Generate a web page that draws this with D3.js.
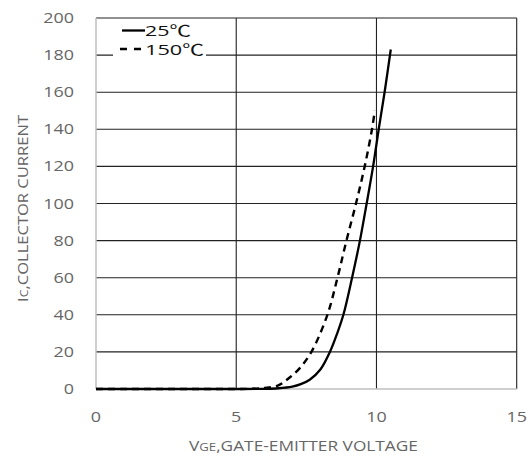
<!DOCTYPE html>
<html><head><meta charset="utf-8">
<script src="https://cdn.jsdelivr.net/npm/d3@7"></script>
<style>body{margin:0;background:#fff;} svg{display:block;}</style>
</head><body>
<script>
const xTicks = [0, 5, 10, 15];
const yTicks = [0, 20, 40, 60, 80, 100, 120, 140, 160, 180, 200];
const series25Label = "25℃";
const series150Label = "150℃";
const vge25 = [0, 1, 2, 3, 4, 5, 6, 6.5, 7.0, 7.3, 7.62, 8.0, 8.34, 8.6, 8.82, 9.13, 9.41, 9.65, 9.88, 10.08, 10.29, 10.51];
const ic25  = [0, 0, 0, 0, 0, 0, 0.1, 0.4, 1.3, 2.6, 5, 10.5, 20, 30, 40, 60, 80, 100, 120, 140, 160, 183];
const vge150 = [0, 1, 2, 3, 4, 5, 5.5, 6.0, 6.5, 6.85, 7.25, 7.68, 8.25, 8.61, 8.93, 9.27, 9.58, 9.84, 9.94];
const ic150  = [0, 0, 0, 0, 0, 0, 0.1, 0.6, 2, 5.5, 11, 20, 40, 60, 80, 100, 120, 140, 150];

const W = 532, H = 459;
const sx = 1.28;
const svg = d3.select("body").append("svg").attr("width", W).attr("height", H);
const x = d3.scaleLinear().domain([0, 15]).range([96, 516.7]);
const y = d3.scaleLinear().domain([0, 200]).range([389, 18]);
const font = "'Open Sans', sans-serif";

function stretch(sel, factor) {
  sel.each(function() {
    const len = this.getComputedTextLength();
    d3.select(this).attr("textLength", len * factor).attr("lengthAdjust", "spacingAndGlyphs");
  });
}

svg.append("g").selectAll("line").data(yTicks.filter(d => d > 0)).join("line")
  .attr("x1", x(0)).attr("x2", x(15)).attr("y1", d => y(d)).attr("y2", d => y(d))
  .attr("stroke", "#222").attr("stroke-width", 1.1);
svg.append("g").selectAll("line").data(xTicks.filter(d => d > 0)).join("line")
  .attr("x1", d => x(d)).attr("x2", d => x(d)).attr("y1", y(0)).attr("y2", y(200))
  .attr("stroke", "#222").attr("stroke-width", 1.1);
svg.append("line").attr("x1", x(0)).attr("x2", x(0)).attr("y1", y(0)).attr("y2", y(200))
  .attr("stroke", "#bfbfbf").attr("stroke-width", 1.5);
svg.append("line").attr("x1", x(0)).attr("x2", x(15)).attr("y1", y(0)).attr("y2", y(0))
  .attr("stroke", "#bfbfbf").attr("stroke-width", 1.5);

const yl = svg.append("g").selectAll("text").data(yTicks).join("text")
  .attr("x", 74).attr("y", d => y(d)).attr("dy", "0.36em")
  .attr("text-anchor", "end").attr("font-family", font).attr("font-size", 14)
  .attr("fill", "#666").text(d => d);
stretch(yl, sx);
const xl = svg.append("g").selectAll("text").data(xTicks).join("text")
  .attr("x", d => x(d)).attr("y", 421.5)
  .attr("text-anchor", "middle").attr("font-family", font).attr("font-size", 14)
  .attr("fill", "#666").text(d => d);
stretch(xl, sx);

const xt = svg.append("text").attr("x", 303.5).attr("y", 450.5).attr("text-anchor", "middle")
  .attr("font-family", font).attr("font-size", 14.5).attr("fill", "#666");
xt.append("tspan").text("V");
xt.append("tspan").attr("font-size", 11).text("GE");
xt.append("tspan").text(",GATE-EMITTER VOLTAGE");
xt.attr("textLength", 229).attr("lengthAdjust", "spacingAndGlyphs");

const yt = svg.append("text").attr("transform", "translate(28,208.5) rotate(-90)").attr("text-anchor", "middle")
  .attr("font-family", font).attr("font-size", 14).attr("fill", "#666");
yt.append("tspan").text("I");
yt.append("tspan").attr("font-size", 10.5).text("C");
yt.append("tspan").text(",COLLECTOR CURRENT");
yt.attr("textLength", 187).attr("lengthAdjust", "spacingAndGlyphs");

const line = d3.line().x(d => x(d[0])).y(d => y(Math.max(0, d[1]))).curve(d3.curveCatmullRom.alpha(0.5));
svg.append("path").datum(d3.zip(vge150, ic150)).attr("d", line)
  .attr("fill", "none").attr("stroke", "#000").attr("stroke-width", 2.4)
  .attr("stroke-dasharray", "7,5");
svg.append("path").datum(d3.zip(vge25, ic25)).attr("d", line)
  .attr("fill", "none").attr("stroke", "#000").attr("stroke-width", 2.3);

svg.append("rect").attr("x", 113).attr("y", 20).attr("width", 93).attr("height", 40).attr("fill", "#fff");
svg.append("line").attr("x1", 122).attr("x2", 145).attr("y1", 30.5).attr("y2", 30.5)
  .attr("stroke", "#000").attr("stroke-width", 2.3);
svg.append("line").attr("x1", 120).attr("x2", 145).attr("y1", 49).attr("y2", 49)
  .attr("stroke", "#000").attr("stroke-width", 2.3).attr("stroke-dasharray", "7,7");
const lg1 = svg.append("text").attr("x", 145).attr("y", 36).attr("font-family", font).attr("font-size", 15)
  .attr("fill", "#111");
lg1.append("tspan").text(series25Label.slice(0, -1));
lg1.append("tspan").attr("font-family", "'Noto Sans CJK SC'").text(series25Label.slice(-1));
lg1.attr("textLength", 46).attr("lengthAdjust", "spacingAndGlyphs");
const lg2 = svg.append("text").attr("x", 145).attr("y", 55).attr("font-family", font).attr("font-size", 15)
  .attr("fill", "#111");
lg2.append("tspan").text(series150Label.slice(0, -1));
lg2.append("tspan").attr("font-family", "'Noto Sans CJK SC'").text(series150Label.slice(-1));
lg2.attr("textLength", 59).attr("lengthAdjust", "spacingAndGlyphs");
</script>
</body></html>
